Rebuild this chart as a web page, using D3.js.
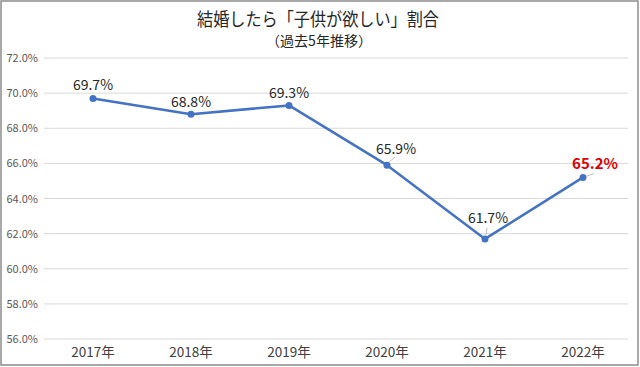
<!DOCTYPE html>
<html><head><meta charset="utf-8">
<script src="https://cdn.jsdelivr.net/npm/d3@7"></script>
<style>body{margin:0;background:#fff}svg{display:block}text{font-family:"Noto Sans CJK JP","Noto Sans",sans-serif}</style>
</head><body><svg id="c" width="640" height="367"></svg>
<script>
const categories = ["2017年","2018年","2019年","2020年","2021年","2022年"];
const values = [69.7, 68.8, 69.3, 65.9, 61.7, 65.2];
const yTicks = [56, 58, 60, 62, 64, 66, 68, 70, 72];
const title = "結婚したら「子供が欲しい」割合";
const subtitle = "（過去5年推移）";

const svg = d3.select("#c");
const W = 640, H = 367;
svg.append("rect").attr("x",1).attr("y",1).attr("width",W-3).attr("height",H-3)
  .attr("fill","#fff").attr("stroke","#8c8c8c").attr("stroke-width",1.5);

const x = d3.scaleBand().domain(categories).range([44, 632]);
const y = d3.scaleLinear().domain([56, 72]).range([339, 58]);

// grid
svg.append("g").selectAll("line").data(yTicks).join("line")
  .attr("x1",44).attr("x2",628).attr("y1",d=>y(d)).attr("y2",d=>y(d))
  .attr("stroke","#d9d9d9").attr("stroke-width",1);

// y axis labels
const yAxis = d3.axisLeft(y).tickValues(yTicks).tickSize(0).tickPadding(0).tickFormat(d=>d.toFixed(1)+"%");
const ga = svg.append("g").attr("transform","translate(38,0)").call(yAxis);
ga.select(".domain").remove();
ga.selectAll("text").attr("font-size",11).attr("fill","#595959").attr("font-family","'Noto Sans CJK JP',sans-serif");

// x axis labels
const xAxis = d3.axisBottom(x).tickSize(0).tickPadding(0);
const gx = svg.append("g").attr("transform","translate(0,347)").call(xAxis);
gx.select(".domain").remove();
gx.selectAll("text").attr("font-size",13.5).attr("fill","#404040").attr("font-family","'Noto Sans CJK JP',sans-serif");

const cx = d => x(d) + x.bandwidth()/2;

// line
svg.append("path").datum(values)
  .attr("d", d3.line().x((d,i)=>cx(categories[i])).y(d=>y(d)))
  .attr("fill","none").attr("stroke","#4472C4").attr("stroke-width",2.5).attr("stroke-linejoin","round");

svg.append("g").selectAll("circle").data(values).join("circle")
  .attr("cx",(d,i)=>cx(categories[i])).attr("cy",d=>y(d)).attr("r",3.5).attr("fill","#4472C4");

// labels: offsets relative to point
const labelOff = [[0,-8],[0,-7],[0,-7],[9,-11],[3,-16],[12,-8]];
const leader = [null,null,null,[[2,-3],[8,-8]],[[1,-4],[2,-11]],[[3,-1],[11,-4]]];
values.forEach((v,i)=>{
  const px = cx(categories[i]), py = y(v);
  if (leader[i]) {
    svg.append("line").attr("x1",px+leader[i][0][0]).attr("y1",py+leader[i][0][1])
      .attr("x2",px+leader[i][1][0]).attr("y2",py+leader[i][1][1])
      .attr("stroke","#bfbfbf").attr("stroke-width",1);
  }
  const last = i === values.length-1;
  svg.append("text").attr("x",px+labelOff[i][0]).attr("y",py+labelOff[i][1])
    .attr("text-anchor","middle")
    .attr("font-size", last ? 15 : 14)
    .attr("font-weight", last ? "bold" : "normal")
    .attr("fill", last ? "#e00000" : "#262626")
    .text(v.toFixed(1)+"%");
});

// titles
svg.append("text").attr("x",318).attr("y",25.5).attr("text-anchor","middle")
  .attr("font-size",18).attr("textLength",242).attr("lengthAdjust","spacingAndGlyphs")
  .attr("fill","#262626").text(title);
svg.append("text").attr("x",319).attr("y",46).attr("text-anchor","middle")
  .attr("font-size",14).attr("fill","#262626").text(subtitle);
</script></body></html>
